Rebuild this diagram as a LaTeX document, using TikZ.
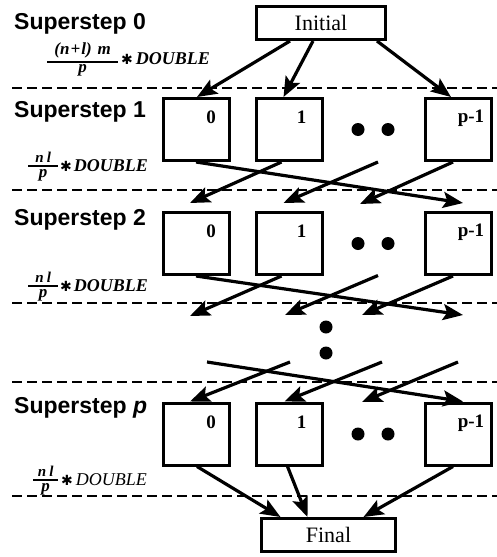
\documentclass[tikz,border=0pt]{standalone}
\usepackage{fontspec}
\setmainfont{Liberation Serif}
\setsansfont{Liberation Sans}
\newfontfamily\symfont{DejaVu Sans}
\usetikzlibrary{arrows.meta}

% fraction with a thick bar of fixed width, centred on the math axis
\newcommand\costfrac[3]{$\vcenter{\hbox to #1{\hfil#2\hfil}\kern2.5pt\hrule height 2pt\kern2pt\hbox to #1{\hfil#3\hfil}}$}
\newcommand\heavystar{\raisebox{0pt}{\fontsize{14}{14}\symfont ✱}}

\tikzset{
  pbox/.style={draw, line width=3pt, minimum width=66pt, minimum height=62pt, inner sep=0pt},
  endbox/.style={draw, line width=3pt, minimum height=33pt, inner sep=0pt,
                 font=\fontsize{22}{24}\selectfont},
  idx/.style={inner sep=0pt, font=\fontsize{19}{21}\selectfont\bfseries},
  steplabel/.style={anchor=base west, inner sep=0pt,
                    font=\sffamily\bfseries\fontsize{23}{26}\selectfont},
  cost/.style={anchor=base west, inner sep=0pt,
               font=\bfseries\itshape\fontsize{18}{20}\selectfont},
  msg/.style={line width=3.2pt, -{Stealth[length=20pt,width=16pt,inset=4pt]}},
  sep/.style={line width=2.4pt, dash pattern=on 10pt off 5pt},
  bigdot/.style={circle, fill, inner sep=0pt, minimum size=13pt}
}

\begin{document}
\begin{tikzpicture}[x=1pt, y=-1pt]
\useasboundingbox (0,0) rectangle (497,557);

% superstep separators
\foreach \yy in {88,190,303,382,496}
  \draw[sep] (12,\yy) -- (497,\yy);

% step labels
\node[steplabel] (s0) at (14,29)  {Superstep 0};
\node[steplabel] (s1) at (14,117) {Superstep 1};
\node[steplabel] (s2) at (14,225) {Superstep 2};
\node[steplabel] (sp) at (14,413) {Superstep \textit{p}};

% communication volume per superstep
\node[cost] (c0) at (47,64)
  {\costfrac{71pt}{\fontsize{17}{17}\selectfont(n\kern1pt+\kern1pt l)\kern6pt m}{\fontsize{17}{17}\selectfont p}\kern3pt\heavystar\kern3pt DOUBLE};
\node[cost] (c1) at (28,171)
  {\costfrac{30pt}{\fontsize{15}{15}\selectfont n\kern3pt l}{\fontsize{17}{17}\selectfont p}\kern2pt\heavystar\kern2pt DOUBLE};
\node[cost] (c2) at (28,291)
  {\costfrac{30pt}{\fontsize{15}{15}\selectfont n\kern3pt l}{\fontsize{17}{17}\selectfont p}\kern2pt\heavystar\kern2pt DOUBLE};
\node[cost, font=\itshape\fontsize{18}{20}\selectfont] (cp) at (33,485)
  {\costfrac{25pt}{\fontsize{15}{15}\selectfont\bfseries n\kern3pt l}{\fontsize{17}{17}\selectfont\bfseries p}\kern3pt\heavystar\kern3pt DOUBLE};

% initial and final tasks
\node[endbox, minimum width=129pt] (init) at (321,23)  {Initial};
\node[endbox, minimum width=134pt] (fin)  at (328.5,535) {Final};

% processor boxes
\foreach \r/\yc in {1/129.5, 2/243.5, p/434}{
  \node[pbox] (b\r0) at (196,\yc)   {};
  \node[pbox] (b\r1) at (289.5,\yc) {};
  \node[pbox] (b\r p) at (458,\yc)  {};
  \node[bigdot] (h\r a) at (358,\yc) {};
  \node[bigdot] (h\r b) at (388,\yc) {};
}
\foreach \r in {1,2,p}{
  \node[idx, anchor=north] (n\r0) at ([xshift=15pt,yshift=-14pt]b\r0.north)  {0};
  \node[idx, anchor=north] (n\r1) at ([xshift=12pt,yshift=-14pt]b\r1.north)  {1};
  \node[idx, anchor=north] (n\r p) at ([xshift=13pt,yshift=-13pt]b\r p.north) {p-1};
}

% vertical ellipsis between superstep 2 and superstep p
\node[bigdot] (v1) at (326,327) {};
\node[bigdot] (v2) at (326,353) {};

% free ends of messages in the elided column
\coordinate (d1s) at (378,162);
\coordinate (d2e) at (360,204);
\coordinate (d2s) at (378,275.5);
\coordinate (e2p) at (463,315);
\coordinate (e20) at (190,316);
\coordinate (e21) at (285,315);
\coordinate (e2d) at (362,315);
\coordinate (sp0) at (207,362);
\coordinate (sp1) at (290,362);
\coordinate (spd) at (382,362);
\coordinate (spp) at (458,362);
\coordinate (epd) at (362,402);

% scatter from Initial
\draw[msg] ([xshift=-31pt]init.south) -- ([xshift=1pt]b10.north);
\draw[msg] ([xshift=-8pt]init.south)  -- ([xshift=-6pt]b11.north);
\draw[msg] ([xshift=56pt]init.south)  -- ([xshift=-7pt]b1p.north);

% superstep 1 -> 2 (cyclic shift)
\draw[msg] (b10.south) -- ([xshift=5pt,yshift=8pt]b2p.north);
\draw[msg] ([xshift=-8pt]b11.south) -- ([xshift=-6pt,yshift=8pt]b20.north);
\draw[msg] (d1s) -- ([xshift=-6pt,yshift=8pt]b21.north);
\draw[msg] ([xshift=-5pt]b1p.south) -- (d2e);

% superstep 2 -> next
\draw[msg] (b20.south) -- (e2p);
\draw[msg] ([xshift=-8pt]b21.south) -- (e20);
\draw[msg] (d2s) -- (e21);
\draw[msg] ([xshift=-5pt]b2p.south) -- (e2d);

% previous -> superstep p
\draw[msg] (sp0) -- ([xshift=5pt]bpp.north);
\draw[msg] (sp1) -- ([xshift=-6pt]bp0.north);
\draw[msg] (spd) -- ([xshift=-5pt]bp1.north);
\draw[msg] (spp) -- (epd);

% gather into Final
\draw[msg] ([xshift=1pt]bp0.south)  -- ([xshift=-48pt]fin.north);
\draw[msg] ([xshift=-2pt]bp1.south) -- ([xshift=-21pt]fin.north);
\draw[msg] ([xshift=-5pt]bpp.south) -- ([xshift=35pt]fin.north);
\end{tikzpicture}
\end{document}
